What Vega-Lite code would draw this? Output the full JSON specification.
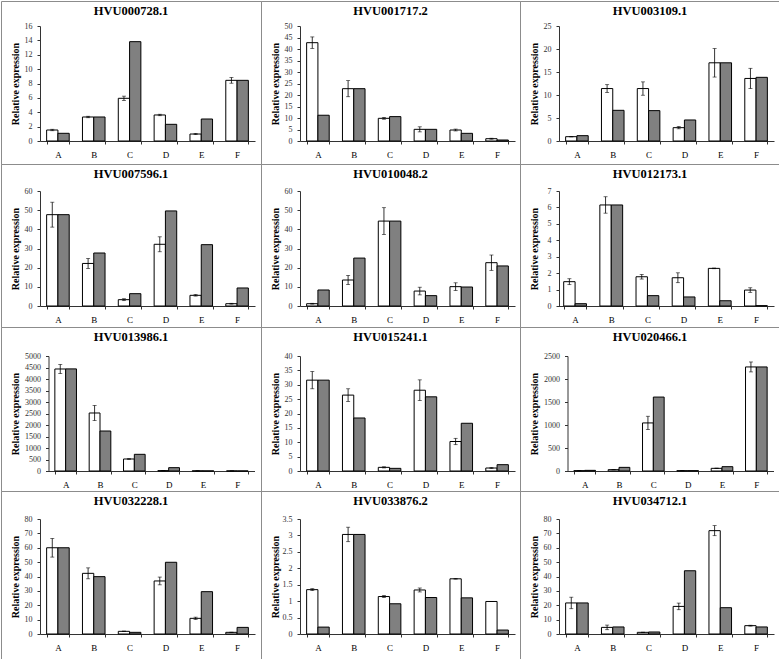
{
"$schema": "https://vega.github.io/schema/vega-lite/v6.json",
"padding": 0,
"spacing": 0,
"columns": 3,
"bounds": "flush",
"data": {"values": [
{"gene":"HVU000728.1","cat":"A","series":"S1","value":1.53,"err":0.1},{"gene":"HVU000728.1","cat":"A","series":"S2","value":1.07},
{"gene":"HVU000728.1","cat":"B","series":"S1","value":3.34,"err":0.1},{"gene":"HVU000728.1","cat":"B","series":"S2","value":3.34},
{"gene":"HVU000728.1","cat":"C","series":"S1","value":5.94,"err":0.3},{"gene":"HVU000728.1","cat":"C","series":"S2","value":13.82},
{"gene":"HVU000728.1","cat":"D","series":"S1","value":3.62,"err":0.1},{"gene":"HVU000728.1","cat":"D","series":"S2","value":2.32},
{"gene":"HVU000728.1","cat":"E","series":"S1","value":0.97,"err":0.08},{"gene":"HVU000728.1","cat":"E","series":"S2","value":3.06},
{"gene":"HVU000728.1","cat":"F","series":"S1","value":8.44,"err":0.4},{"gene":"HVU000728.1","cat":"F","series":"S2","value":8.44},
{"gene":"HVU001717.2","cat":"A","series":"S1","value":42.75,"err":2.5},{"gene":"HVU001717.2","cat":"A","series":"S2","value":11.2},
{"gene":"HVU001717.2","cat":"B","series":"S1","value":22.75,"err":3.5},{"gene":"HVU001717.2","cat":"B","series":"S2","value":22.75},
{"gene":"HVU001717.2","cat":"C","series":"S1","value":9.86,"err":0.4},{"gene":"HVU001717.2","cat":"C","series":"S2","value":10.6},
{"gene":"HVU001717.2","cat":"D","series":"S1","value":5.07,"err":1.1},{"gene":"HVU001717.2","cat":"D","series":"S2","value":5.07},
{"gene":"HVU001717.2","cat":"E","series":"S1","value":4.78,"err":0.4},{"gene":"HVU001717.2","cat":"E","series":"S2","value":3.33},
{"gene":"HVU001717.2","cat":"F","series":"S1","value":1.0,"err":0.2},{"gene":"HVU001717.2","cat":"F","series":"S2","value":0.43},
{"gene":"HVU003109.1","cat":"A","series":"S1","value":0.94,"err":0.05},{"gene":"HVU003109.1","cat":"A","series":"S2","value":1.16},
{"gene":"HVU003109.1","cat":"B","series":"S1","value":11.4,"err":0.85},{"gene":"HVU003109.1","cat":"B","series":"S2","value":6.67},
{"gene":"HVU003109.1","cat":"C","series":"S1","value":11.4,"err":1.45},{"gene":"HVU003109.1","cat":"C","series":"S2","value":6.6},
{"gene":"HVU003109.1","cat":"D","series":"S1","value":2.9,"err":0.25},{"gene":"HVU003109.1","cat":"D","series":"S2","value":4.57},
{"gene":"HVU003109.1","cat":"E","series":"S1","value":17.0,"err":3.1},{"gene":"HVU003109.1","cat":"E","series":"S2","value":17.0},
{"gene":"HVU003109.1","cat":"F","series":"S1","value":13.6,"err":2.2},{"gene":"HVU003109.1","cat":"F","series":"S2","value":13.84},
{"gene":"HVU007596.1","cat":"A","series":"S1","value":47.65,"err":6.5},{"gene":"HVU007596.1","cat":"A","series":"S2","value":47.65},
{"gene":"HVU007596.1","cat":"B","series":"S1","value":22.2,"err":2.6},{"gene":"HVU007596.1","cat":"B","series":"S2","value":27.65},
{"gene":"HVU007596.1","cat":"C","series":"S1","value":3.3,"err":0.5},{"gene":"HVU007596.1","cat":"C","series":"S2","value":6.43},
{"gene":"HVU007596.1","cat":"D","series":"S1","value":32.2,"err":3.9},{"gene":"HVU007596.1","cat":"D","series":"S2","value":49.6},
{"gene":"HVU007596.1","cat":"E","series":"S1","value":5.57,"err":0.4},{"gene":"HVU007596.1","cat":"E","series":"S2","value":32.0},
{"gene":"HVU007596.1","cat":"F","series":"S1","value":1.2,"err":0.2},{"gene":"HVU007596.1","cat":"F","series":"S2","value":9.4},
{"gene":"HVU010048.2","cat":"A","series":"S1","value":1.2,"err":0.2},{"gene":"HVU010048.2","cat":"A","series":"S2","value":8.35},
{"gene":"HVU010048.2","cat":"B","series":"S1","value":13.56,"err":2.4},{"gene":"HVU010048.2","cat":"B","series":"S2","value":25.0},
{"gene":"HVU010048.2","cat":"C","series":"S1","value":44.3,"err":7.0},{"gene":"HVU010048.2","cat":"C","series":"S2","value":44.3},
{"gene":"HVU010048.2","cat":"D","series":"S1","value":7.8,"err":2.0},{"gene":"HVU010048.2","cat":"D","series":"S2","value":5.4},
{"gene":"HVU010048.2","cat":"E","series":"S1","value":10.1,"err":2.0},{"gene":"HVU010048.2","cat":"E","series":"S2","value":9.9},
{"gene":"HVU010048.2","cat":"F","series":"S1","value":22.6,"err":4.0},{"gene":"HVU010048.2","cat":"F","series":"S2","value":20.9},
{"gene":"HVU012173.1","cat":"A","series":"S1","value":1.48,"err":0.18},{"gene":"HVU012173.1","cat":"A","series":"S2","value":0.14},
{"gene":"HVU012173.1","cat":"B","series":"S1","value":6.15,"err":0.5},{"gene":"HVU012173.1","cat":"B","series":"S2","value":6.15},
{"gene":"HVU012173.1","cat":"C","series":"S1","value":1.78,"err":0.14},{"gene":"HVU012173.1","cat":"C","series":"S2","value":0.63},
{"gene":"HVU012173.1","cat":"D","series":"S1","value":1.72,"err":0.3},{"gene":"HVU012173.1","cat":"D","series":"S2","value":0.55},
{"gene":"HVU012173.1","cat":"E","series":"S1","value":2.29,"err":0.02},{"gene":"HVU012173.1","cat":"E","series":"S2","value":0.32},
{"gene":"HVU012173.1","cat":"F","series":"S1","value":0.97,"err":0.14},{"gene":"HVU012173.1","cat":"F","series":"S2","value":0.02},
{"gene":"HVU013986.1","cat":"A","series":"S1","value":4435,"err":200},{"gene":"HVU013986.1","cat":"A","series":"S2","value":4440},
{"gene":"HVU013986.1","cat":"B","series":"S1","value":2522,"err":330},{"gene":"HVU013986.1","cat":"B","series":"S2","value":1739},
{"gene":"HVU013986.1","cat":"C","series":"S1","value":522,"err":20},{"gene":"HVU013986.1","cat":"C","series":"S2","value":725},
{"gene":"HVU013986.1","cat":"D","series":"S1","value":15,"err":5},{"gene":"HVU013986.1","cat":"D","series":"S2","value":145},
{"gene":"HVU013986.1","cat":"E","series":"S1","value":5,"err":2},{"gene":"HVU013986.1","cat":"E","series":"S2","value":3},
{"gene":"HVU013986.1","cat":"F","series":"S1","value":3,"err":1},{"gene":"HVU013986.1","cat":"F","series":"S2","value":1},
{"gene":"HVU015241.1","cat":"A","series":"S1","value":31.6,"err":3.0},{"gene":"HVU015241.1","cat":"A","series":"S2","value":31.6},
{"gene":"HVU015241.1","cat":"B","series":"S1","value":26.4,"err":2.2},{"gene":"HVU015241.1","cat":"B","series":"S2","value":18.44},
{"gene":"HVU015241.1","cat":"C","series":"S1","value":1.27,"err":0.2},{"gene":"HVU015241.1","cat":"C","series":"S2","value":0.92},
{"gene":"HVU015241.1","cat":"D","series":"S1","value":28.1,"err":3.6},{"gene":"HVU015241.1","cat":"D","series":"S2","value":25.8},
{"gene":"HVU015241.1","cat":"E","series":"S1","value":10.26,"err":1.1},{"gene":"HVU015241.1","cat":"E","series":"S2","value":16.6},
{"gene":"HVU015241.1","cat":"F","series":"S1","value":1.04,"err":0.15},{"gene":"HVU015241.1","cat":"F","series":"S2","value":2.2},
{"gene":"HVU020466.1","cat":"A","series":"S1","value":7,"err":2},{"gene":"HVU020466.1","cat":"A","series":"S2","value":14},
{"gene":"HVU020466.1","cat":"B","series":"S1","value":29,"err":4},{"gene":"HVU020466.1","cat":"B","series":"S2","value":79},
{"gene":"HVU020466.1","cat":"C","series":"S1","value":1045,"err":145},{"gene":"HVU020466.1","cat":"C","series":"S2","value":1607},
{"gene":"HVU020466.1","cat":"D","series":"S1","value":7,"err":2},{"gene":"HVU020466.1","cat":"D","series":"S2","value":7},
{"gene":"HVU020466.1","cat":"E","series":"S1","value":58,"err":5},{"gene":"HVU020466.1","cat":"E","series":"S2","value":94},
{"gene":"HVU020466.1","cat":"F","series":"S1","value":2262,"err":108},{"gene":"HVU020466.1","cat":"F","series":"S2","value":2262},
{"gene":"HVU032228.1","cat":"A","series":"S1","value":60.0,"err":6.5},{"gene":"HVU032228.1","cat":"A","series":"S2","value":60.0},
{"gene":"HVU032228.1","cat":"B","series":"S1","value":42.2,"err":3.8},{"gene":"HVU032228.1","cat":"B","series":"S2","value":39.9},
{"gene":"HVU032228.1","cat":"C","series":"S1","value":1.85,"err":0.2},{"gene":"HVU032228.1","cat":"C","series":"S2","value":1.16},
{"gene":"HVU032228.1","cat":"D","series":"S1","value":36.9,"err":2.7},{"gene":"HVU032228.1","cat":"D","series":"S2","value":49.9},
{"gene":"HVU032228.1","cat":"E","series":"S1","value":10.9,"err":0.8},{"gene":"HVU032228.1","cat":"E","series":"S2","value":29.45},
{"gene":"HVU032228.1","cat":"F","series":"S1","value":1.16,"err":0.1},{"gene":"HVU032228.1","cat":"F","series":"S2","value":4.6},
{"gene":"HVU033876.2","cat":"A","series":"S1","value":1.35,"err":0.03},{"gene":"HVU033876.2","cat":"A","series":"S2","value":0.21},
{"gene":"HVU033876.2","cat":"B","series":"S1","value":3.03,"err":0.22},{"gene":"HVU033876.2","cat":"B","series":"S2","value":3.03},
{"gene":"HVU033876.2","cat":"C","series":"S1","value":1.14,"err":0.03},{"gene":"HVU033876.2","cat":"C","series":"S2","value":0.92},
{"gene":"HVU033876.2","cat":"D","series":"S1","value":1.34,"err":0.06},{"gene":"HVU033876.2","cat":"D","series":"S2","value":1.11},
{"gene":"HVU033876.2","cat":"E","series":"S1","value":1.68,"err":0.01},{"gene":"HVU033876.2","cat":"E","series":"S2","value":1.10},
{"gene":"HVU033876.2","cat":"F","series":"S1","value":0.99,"err":0.0},{"gene":"HVU033876.2","cat":"F","series":"S2","value":0.12},
{"gene":"HVU034712.1","cat":"A","series":"S1","value":21.6,"err":4.0},{"gene":"HVU034712.1","cat":"A","series":"S2","value":21.6},
{"gene":"HVU034712.1","cat":"B","series":"S1","value":4.6,"err":1.6},{"gene":"HVU034712.1","cat":"B","series":"S2","value":4.9},
{"gene":"HVU034712.1","cat":"C","series":"S1","value":1.16,"err":0.1},{"gene":"HVU034712.1","cat":"C","series":"S2","value":1.4},
{"gene":"HVU034712.1","cat":"D","series":"S1","value":19.2,"err":2.3},{"gene":"HVU034712.1","cat":"D","series":"S2","value":44.0},
{"gene":"HVU034712.1","cat":"E","series":"S1","value":71.9,"err":3.5},{"gene":"HVU034712.1","cat":"E","series":"S2","value":18.3},
{"gene":"HVU034712.1","cat":"F","series":"S1","value":5.8,"err":0.3},{"gene":"HVU034712.1","cat":"F","series":"S2","value":4.9}
]},
"resolve": {"scale": {"x": "independent", "y": "independent", "xOffset": "independent"}},
"concat": [
{"width":260,"height":163,"title":"HVU000728.1","transform":[{"filter":"datum.gene === 'HVU000728.1'"}],
 "encoding":{"x":{"field":"cat","type":"nominal","scale":{"range":[39,254],"paddingInner":0.37,"paddingOuter":0.185},"axis":{"offset":-23}},
  "xOffset":{"field":"series","type":"nominal"},
  "y":{"field":"value","type":"quantitative","title":"Relative expression","scale":{"domain":[0,16],"range":[140,25],"nice":false},"axis":{"offset":-39,"tickCount":8,"titleX":-22}}},
 "layer":[{"mark":{"type":"bar","stroke":"black","strokeWidth":1},"encoding":{"fill":{"field":"series","type":"nominal","scale":{"domain":["S1","S2"],"range":["white","#808080"]},"legend":null}}},
  {"transform":[{"filter":"isValid(datum.err)"}],"mark":{"type":"errorbar","ticks":{"size":4},"color":"black","thickness":0.8},"encoding":{"yError":{"field":"err"}}}]},
{"width":259,"height":163,"title":"HVU001717.2","transform":[{"filter":"datum.gene === 'HVU001717.2'"}],
 "encoding":{"x":{"field":"cat","type":"nominal","scale":{"range":[39,254],"paddingInner":0.37,"paddingOuter":0.185},"axis":{"offset":-23}},
  "xOffset":{"field":"series","type":"nominal"},
  "y":{"field":"value","type":"quantitative","title":"Relative expression","scale":{"domain":[0,50],"range":[140,25],"nice":false},"axis":{"offset":-39,"tickCount":10,"titleX":-22}}},
 "layer":[{"mark":{"type":"bar","stroke":"black","strokeWidth":1},"encoding":{"fill":{"field":"series","type":"nominal","scale":{"domain":["S1","S2"],"range":["white","#808080"]},"legend":null}}},
  {"transform":[{"filter":"isValid(datum.err)"}],"mark":{"type":"errorbar","ticks":{"size":4},"color":"black","thickness":0.8},"encoding":{"yError":{"field":"err"}}}]},
{"width":260,"height":163,"title":"HVU003109.1","transform":[{"filter":"datum.gene === 'HVU003109.1'"}],
 "encoding":{"x":{"field":"cat","type":"nominal","scale":{"range":[39,254],"paddingInner":0.37,"paddingOuter":0.185},"axis":{"offset":-23}},
  "xOffset":{"field":"series","type":"nominal"},
  "y":{"field":"value","type":"quantitative","title":"Relative expression","scale":{"domain":[0,25],"range":[140,25],"nice":false},"axis":{"offset":-39,"tickCount":5,"titleX":-22}}},
 "layer":[{"mark":{"type":"bar","stroke":"black","strokeWidth":1},"encoding":{"fill":{"field":"series","type":"nominal","scale":{"domain":["S1","S2"],"range":["white","#808080"]},"legend":null}}},
  {"transform":[{"filter":"isValid(datum.err)"}],"mark":{"type":"errorbar","ticks":{"size":4},"color":"black","thickness":0.8},"encoding":{"yError":{"field":"err"}}}]},
{"width":260,"height":163,"title":"HVU007596.1","transform":[{"filter":"datum.gene === 'HVU007596.1'"}],
 "encoding":{"x":{"field":"cat","type":"nominal","scale":{"range":[39,254],"paddingInner":0.37,"paddingOuter":0.185},"axis":{"offset":-21}},
  "xOffset":{"field":"series","type":"nominal"},
  "y":{"field":"value","type":"quantitative","title":"Relative expression","scale":{"domain":[0,60],"range":[142,27],"nice":false},"axis":{"offset":-39,"tickCount":6,"titleX":-22}}},
 "layer":[{"mark":{"type":"bar","stroke":"black","strokeWidth":1},"encoding":{"fill":{"field":"series","type":"nominal","scale":{"domain":["S1","S2"],"range":["white","#808080"]},"legend":null}}},
  {"transform":[{"filter":"isValid(datum.err)"}],"mark":{"type":"errorbar","ticks":{"size":4},"color":"black","thickness":0.8},"encoding":{"yError":{"field":"err"}}}]},
{"width":259,"height":163,"title":"HVU010048.2","transform":[{"filter":"datum.gene === 'HVU010048.2'"}],
 "encoding":{"x":{"field":"cat","type":"nominal","scale":{"range":[39,254],"paddingInner":0.37,"paddingOuter":0.185},"axis":{"offset":-21}},
  "xOffset":{"field":"series","type":"nominal"},
  "y":{"field":"value","type":"quantitative","title":"Relative expression","scale":{"domain":[0,60],"range":[142,27],"nice":false},"axis":{"offset":-39,"tickCount":6,"titleX":-22}}},
 "layer":[{"mark":{"type":"bar","stroke":"black","strokeWidth":1},"encoding":{"fill":{"field":"series","type":"nominal","scale":{"domain":["S1","S2"],"range":["white","#808080"]},"legend":null}}},
  {"transform":[{"filter":"isValid(datum.err)"}],"mark":{"type":"errorbar","ticks":{"size":4},"color":"black","thickness":0.8},"encoding":{"yError":{"field":"err"}}}]},
{"width":260,"height":163,"title":"HVU012173.1","transform":[{"filter":"datum.gene === 'HVU012173.1'"}],
 "encoding":{"x":{"field":"cat","type":"nominal","scale":{"range":[37,254],"paddingInner":0.37,"paddingOuter":0.185},"axis":{"offset":-21}},
  "xOffset":{"field":"series","type":"nominal"},
  "y":{"field":"value","type":"quantitative","title":"Relative expression","scale":{"domain":[0,7],"range":[142,27],"nice":false},"axis":{"offset":-39,"tickCount":7,"titleX":-22}}},
 "layer":[{"mark":{"type":"bar","stroke":"black","strokeWidth":1},"encoding":{"fill":{"field":"series","type":"nominal","scale":{"domain":["S1","S2"],"range":["white","#808080"]},"legend":null}}},
  {"transform":[{"filter":"isValid(datum.err)"}],"mark":{"type":"errorbar","ticks":{"size":4},"color":"black","thickness":0.8},"encoding":{"yError":{"field":"err"}}}]},
{"width":260,"height":164,"title":"HVU013986.1","transform":[{"filter":"datum.gene === 'HVU013986.1'"}],
 "encoding":{"x":{"field":"cat","type":"nominal","scale":{"range":[47.5,253.5],"paddingInner":0.37,"paddingOuter":0.185},"axis":{"offset":-20}},
  "xOffset":{"field":"series","type":"nominal"},
  "y":{"field":"value","type":"quantitative","title":"Relative expression","scale":{"domain":[0,5000],"range":[144,29],"nice":false},"axis":{"offset":-47.5,"tickCount":10,"titleX":-30}}},
 "layer":[{"mark":{"type":"bar","stroke":"black","strokeWidth":1},"encoding":{"fill":{"field":"series","type":"nominal","scale":{"domain":["S1","S2"],"range":["white","#808080"]},"legend":null}}},
  {"transform":[{"filter":"isValid(datum.err)"}],"mark":{"type":"errorbar","ticks":{"size":4},"color":"black","thickness":0.8},"encoding":{"yError":{"field":"err"}}}]},
{"width":259,"height":164,"title":"HVU015241.1","transform":[{"filter":"datum.gene === 'HVU015241.1'"}],
 "encoding":{"x":{"field":"cat","type":"nominal","scale":{"range":[39,254],"paddingInner":0.37,"paddingOuter":0.185},"axis":{"offset":-20}},
  "xOffset":{"field":"series","type":"nominal"},
  "y":{"field":"value","type":"quantitative","title":"Relative expression","scale":{"domain":[0,40],"range":[144,29],"nice":false},"axis":{"offset":-39,"tickCount":8,"titleX":-22}}},
 "layer":[{"mark":{"type":"bar","stroke":"black","strokeWidth":1},"encoding":{"fill":{"field":"series","type":"nominal","scale":{"domain":["S1","S2"],"range":["white","#808080"]},"legend":null}}},
  {"transform":[{"filter":"isValid(datum.err)"}],"mark":{"type":"errorbar","ticks":{"size":4},"color":"black","thickness":0.8},"encoding":{"yError":{"field":"err"}}}]},
{"width":260,"height":164,"title":"HVU020466.1","transform":[{"filter":"datum.gene === 'HVU020466.1'"}],
 "encoding":{"x":{"field":"cat","type":"nominal","scale":{"range":[47.5,253.5],"paddingInner":0.37,"paddingOuter":0.185},"axis":{"offset":-20}},
  "xOffset":{"field":"series","type":"nominal"},
  "y":{"field":"value","type":"quantitative","title":"Relative expression","scale":{"domain":[0,2500],"range":[144,29],"nice":false},"axis":{"offset":-47.5,"tickCount":5,"titleX":-30}}},
 "layer":[{"mark":{"type":"bar","stroke":"black","strokeWidth":1},"encoding":{"fill":{"field":"series","type":"nominal","scale":{"domain":["S1","S2"],"range":["white","#808080"]},"legend":null}}},
  {"transform":[{"filter":"isValid(datum.err)"}],"mark":{"type":"errorbar","ticks":{"size":4},"color":"black","thickness":0.8},"encoding":{"yError":{"field":"err"}}}]},
{"width":260,"height":168,"title":"HVU032228.1","transform":[{"filter":"datum.gene === 'HVU032228.1'"}],
 "encoding":{"x":{"field":"cat","type":"nominal","scale":{"range":[39,254],"paddingInner":0.37,"paddingOuter":0.185},"axis":{"offset":-25}},
  "xOffset":{"field":"series","type":"nominal"},
  "y":{"field":"value","type":"quantitative","title":"Relative expression","scale":{"domain":[0,80],"range":[143,28],"nice":false},"axis":{"offset":-39,"tickCount":8,"titleX":-22}}},
 "layer":[{"mark":{"type":"bar","stroke":"black","strokeWidth":1},"encoding":{"fill":{"field":"series","type":"nominal","scale":{"domain":["S1","S2"],"range":["white","#808080"]},"legend":null}}},
  {"transform":[{"filter":"isValid(datum.err)"}],"mark":{"type":"errorbar","ticks":{"size":4},"color":"black","thickness":0.8},"encoding":{"yError":{"field":"err"}}}]},
{"width":259,"height":168,"title":"HVU033876.2","transform":[{"filter":"datum.gene === 'HVU033876.2'"}],
 "encoding":{"x":{"field":"cat","type":"nominal","scale":{"range":[39,254],"paddingInner":0.37,"paddingOuter":0.185},"axis":{"offset":-25}},
  "xOffset":{"field":"series","type":"nominal"},
  "y":{"field":"value","type":"quantitative","title":"Relative expression","scale":{"domain":[0,3.5],"range":[143,28],"nice":false},"axis":{"offset":-39,"tickCount":7,"titleX":-22}}},
 "layer":[{"mark":{"type":"bar","stroke":"black","strokeWidth":1},"encoding":{"fill":{"field":"series","type":"nominal","scale":{"domain":["S1","S2"],"range":["white","#808080"]},"legend":null}}},
  {"transform":[{"filter":"isValid(datum.err)"}],"mark":{"type":"errorbar","ticks":{"size":4},"color":"black","thickness":0.8},"encoding":{"yError":{"field":"err"}}}]},
{"width":260,"height":168,"title":"HVU034712.1","transform":[{"filter":"datum.gene === 'HVU034712.1'"}],
 "encoding":{"x":{"field":"cat","type":"nominal","scale":{"range":[39,254],"paddingInner":0.37,"paddingOuter":0.185},"axis":{"offset":-25}},
  "xOffset":{"field":"series","type":"nominal"},
  "y":{"field":"value","type":"quantitative","title":"Relative expression","scale":{"domain":[0,80],"range":[143,28],"nice":false},"axis":{"offset":-39,"tickCount":8,"titleX":-22}}},
 "layer":[{"mark":{"type":"bar","stroke":"black","strokeWidth":1},"encoding":{"fill":{"field":"series","type":"nominal","scale":{"domain":["S1","S2"],"range":["white","#808080"]},"legend":null}}},
  {"transform":[{"filter":"isValid(datum.err)"}],"mark":{"type":"errorbar","ticks":{"size":4},"color":"black","thickness":0.8},"encoding":{"yError":{"field":"err"}}}]}
],
"config": {
 "view": {"stroke": "#8c8c8c", "strokeWidth": 1},
 "concat": {"spacing": 0},
 "font": "Liberation Serif",
 "title": {"font": "Liberation Serif", "fontSize": 12.5, "fontWeight": "bold", "offset": -16, "baseline": "alphabetic", "frame": "group", "anchor": "middle", "color": "black"},
 "axis": {"labelFont": "Liberation Serif", "titleFont": "Liberation Serif", "domainColor": "#333333", "tickColor": "#333333", "tickSize": 3, "grid": false},
 "axisY": {"labelFontSize": 8, "labelColor": "#333333", "labelPadding": 5, "format": "~r", "titleFontSize": 10, "titleFontWeight": "bold", "titleColor": "black", "titleBaseline": "alphabetic"},
 "axisX": {"title": null, "labelFontSize": 9, "labelColor": "black", "labelAngle": 0, "labelPadding": 6, "tickBand": "extent"}
}
}
